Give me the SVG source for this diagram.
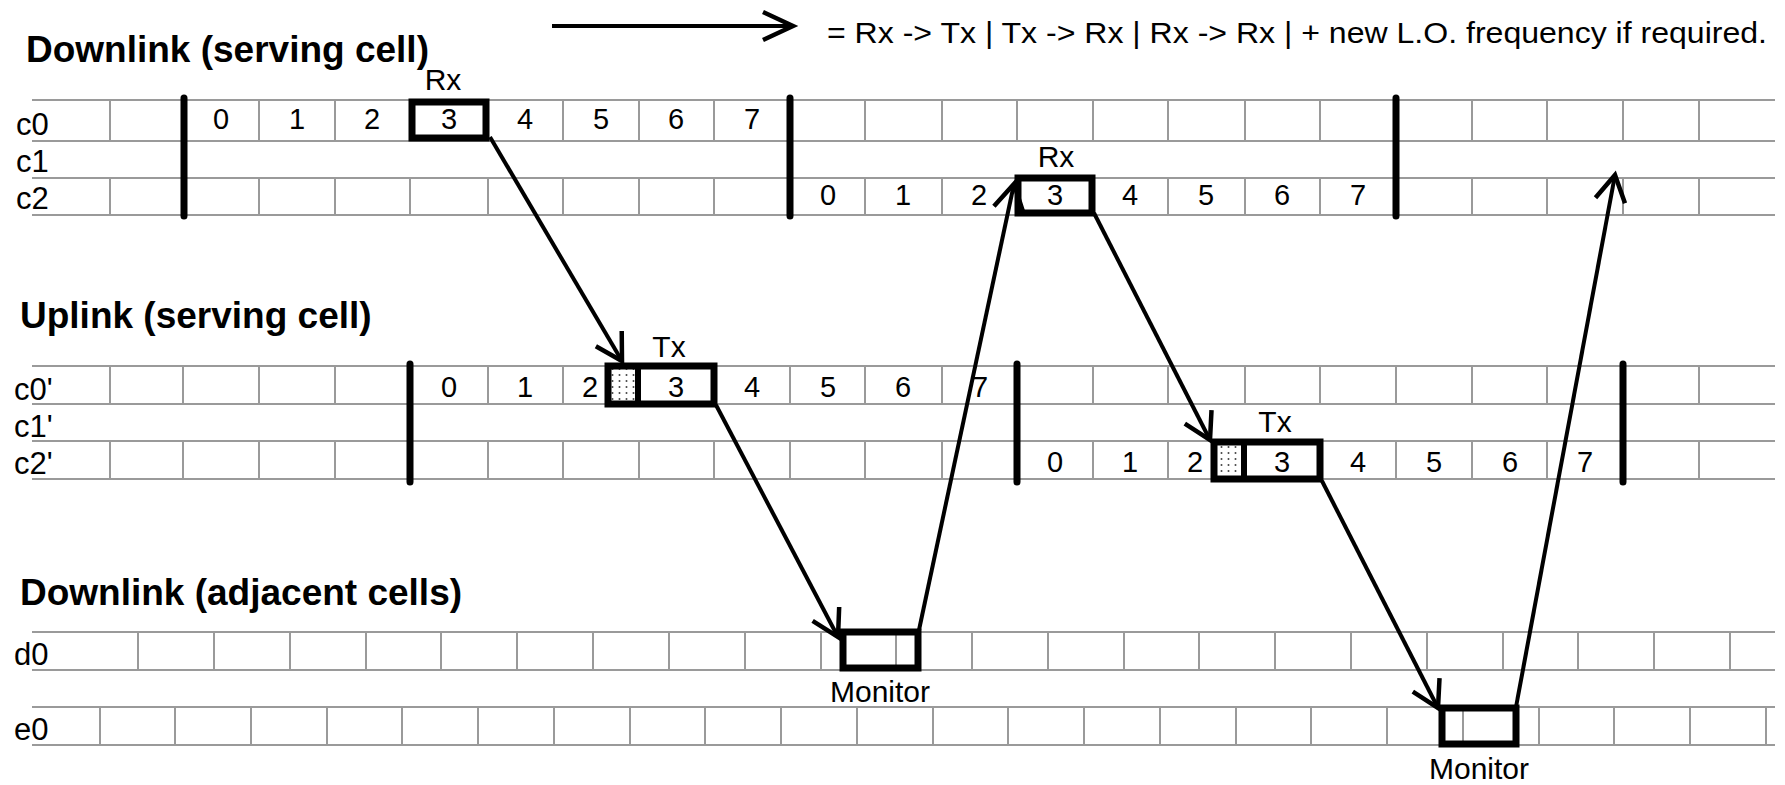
<svg xmlns="http://www.w3.org/2000/svg" width="1785" height="785" viewBox="0 0 1785 785">
<style>
.bg{fill:#fff}
.g{stroke:#9a9a9a;stroke-width:2;fill:none}
.bar{stroke:#000;stroke-width:7;stroke-linecap:round}
.box{fill:none;stroke:#000;stroke-width:7}
.dv{stroke:#000;stroke-width:6}
.t{font-family:"Liberation Sans",Arial,sans-serif;font-weight:bold;font-size:37px;fill:#000}
.lb{font-family:"Liberation Sans",Arial,sans-serif;font-size:31px;fill:#000}
.n{font-family:"Liberation Sans",Arial,sans-serif;font-size:29px;fill:#000;text-anchor:middle}
.m{font-family:"Liberation Sans",Arial,sans-serif;font-size:30px;fill:#000;text-anchor:middle}
.lg{font-family:"Liberation Sans",Arial,sans-serif;font-size:30px;fill:#000}
.c{stroke:#000;stroke-width:4;fill:none}
</style>
<defs>
<marker id="ah" markerUnits="userSpaceOnUse" markerWidth="40" markerHeight="40" viewBox="-35 -20 40 40" refX="0" refY="0" orient="auto" overflow="visible">
<path d="M-26,-15 L0,0 L-26,15" fill="none" stroke="#000" stroke-width="4.5"/>
</marker>
<marker id="ahl" markerUnits="userSpaceOnUse" markerWidth="40" markerHeight="40" viewBox="-35 -20 40 40" refX="0" refY="0" orient="auto" overflow="visible">
<path d="M-30,-14 L0,0 L-30,14" fill="none" stroke="#000" stroke-width="4.5"/>
</marker>
<pattern id="dots" width="7" height="6" patternUnits="userSpaceOnUse">
<circle cx="3.5" cy="3" r="1" fill="#444"/>
</pattern>
</defs>
<rect class="bg" x="0" y="0" width="1785" height="785"/>

<g id="legend">
<path class="c" d="M552,26 L793,26" marker-end="url(#ahl)"/>
<text class="lg" x="827" y="43" textLength="940" lengthAdjust="spacingAndGlyphs">= Rx -&gt; Tx | Tx -&gt; Rx | Rx -&gt; Rx | + new L.O. frequency if required.</text>
</g>

<g id="downlink-serving">
<text class="t" x="26" y="62">Downlink (serving cell)</text>
<text class="lb" x="16" y="135">c0</text>
<text class="lb" x="16" y="172">c1</text>
<text class="lb" x="16" y="209">c2</text>
<path class="g" d="M32,100H1775M32,141H1775M32,178H1775M32,215H1775"/>
<path class="g" d="M110,100V141M259,100V141M335,100V141M410,100V141M488,100V141M563,100V141M639,100V141M714,100V141M865,100V141M942,100V141M1017,100V141M1093,100V141M1168,100V141M1245,100V141M1320,100V141M1472,100V141M1547,100V141M1623,100V141M1699,100V141"/>
<path class="g" d="M110,178V215M259,178V215M335,178V215M410,178V215M488,178V215M563,178V215M639,178V215M714,178V215M865,178V215M942,178V215M1017,178V215M1093,178V215M1168,178V215M1245,178V215M1320,178V215M1472,178V215M1547,178V215M1623,178V215M1699,178V215"/>
<path class="bar" d="M184,98V216M790,98V216M1396,98V216"/>
<g id="c0-slots">
<text class="n" x="221" y="129">0</text>
<text class="n" x="297" y="129">1</text>
<text class="n" x="372" y="129">2</text>
<text class="n" x="449" y="129">3</text>
<text class="n" x="525" y="129">4</text>
<text class="n" x="601" y="129">5</text>
<text class="n" x="676" y="129">6</text>
<text class="n" x="752" y="129">7</text>
</g>
<g id="c2-slots">
<text class="n" x="828" y="205">0</text>
<text class="n" x="903" y="205">1</text>
<text class="n" x="979" y="205">2</text>
<text class="n" x="1055" y="205">3</text>
<text class="n" x="1130" y="205">4</text>
<text class="n" x="1206" y="205">5</text>
<text class="n" x="1282" y="205">6</text>
<text class="n" x="1358" y="205">7</text>
</g>
</g>

<g id="rx-c0">
<rect class="box" x="412" y="102" width="74" height="36"/>
<text class="m" x="443" y="90">Rx</text>
</g>
<g id="rx-c2">
<rect class="box" x="1018" y="178" width="74" height="35"/>
<text class="m" x="1056" y="167">Rx</text>
</g>

<g id="uplink-serving">
<text class="t" x="20" y="328">Uplink (serving cell)</text>
<text class="lb" x="14" y="400">c0'</text>
<text class="lb" x="14" y="437">c1'</text>
<text class="lb" x="14" y="474">c2'</text>
<path class="g" d="M32,366H1775M32,404H1775M32,441H1775M32,479H1775"/>
<path class="g" d="M110,366V404M183,366V404M259,366V404M335,366V404M488,366V404M563,366V404M639,366V404M714,366V404M790,366V404M865,366V404M942,366V404M1093,366V404M1168,366V404M1245,366V404M1320,366V404M1396,366V404M1472,366V404M1547,366V404M1699,366V404"/>
<path class="g" d="M110,441V479M183,441V479M259,441V479M335,441V479M488,441V479M563,441V479M639,441V479M714,441V479M790,441V479M865,441V479M942,441V479M1093,441V479M1168,441V479M1245,441V479M1320,441V479M1396,441V479M1472,441V479M1547,441V479M1699,441V479"/>
<path class="bar" d="M410,364V482M1017,364V482M1623,364V482"/>
<g id="c0p-slots">
<text class="n" x="449" y="397">0</text>
<text class="n" x="525" y="397">1</text>
<text class="n" x="590" y="397">2</text>
<text class="n" x="676" y="397">3</text>
<text class="n" x="752" y="397">4</text>
<text class="n" x="828" y="397">5</text>
<text class="n" x="903" y="397">6</text>
<text class="n" x="980" y="397">7</text>
</g>
<g id="c2p-slots">
<text class="n" x="1055" y="472">0</text>
<text class="n" x="1130" y="472">1</text>
<text class="n" x="1195" y="472">2</text>
<text class="n" x="1282" y="472">3</text>
<text class="n" x="1358" y="472">4</text>
<text class="n" x="1434" y="472">5</text>
<text class="n" x="1510" y="472">6</text>
<text class="n" x="1585" y="472">7</text>
</g>
</g>

<g id="tx-c0p">
<rect x="611" y="369" width="26" height="32" fill="url(#dots)"/>
<rect class="box" x="608" y="366" width="106" height="38"/>
<path class="dv" d="M638,366V404"/>
<text class="m" x="669" y="357">Tx</text>
</g>
<g id="tx-c2p">
<rect x="1217" y="445" width="26" height="31" fill="url(#dots)"/>
<rect class="box" x="1214" y="442" width="106" height="37"/>
<path class="dv" d="M1244,442V479"/>
<text class="m" x="1275" y="432">Tx</text>
</g>

<g id="downlink-adjacent">
<text class="t" x="20" y="605">Downlink (adjacent cells)</text>
<text class="lb" x="14" y="665">d0</text>
<text class="lb" x="14" y="740">e0</text>
<path class="g" d="M32,632H1775M32,670H1775"/>
<path class="g" d="M138,632V670M214,632V670M290,632V670M366,632V670M441,632V670M517,632V670M593,632V670M669,632V670M745,632V670M821,632V670M896,632V670M972,632V670M1048,632V670M1124,632V670M1199,632V670M1275,632V670M1351,632V670M1427,632V670M1503,632V670M1578,632V670M1654,632V670M1730,632V670"/>
<path class="g" d="M32,707H1775M32,745H1775"/>
<path class="g" d="M100,707V745M175,707V745M251,707V745M327,707V745M402,707V745M478,707V745M554,707V745M630,707V745M705,707V745M781,707V745M857,707V745M933,707V745M1008,707V745M1084,707V745M1160,707V745M1236,707V745M1311,707V745M1387,707V745M1463,707V745M1539,707V745M1614,707V745M1690,707V745M1766,707V745"/>
</g>

<g id="monitor-d0">
<rect class="box" x="843" y="632" width="75" height="36"/>
<text class="m" x="880" y="702">Monitor</text>
</g>
<g id="monitor-e0">
<rect class="box" x="1442" y="708" width="74" height="36"/>
<text class="m" x="1479" y="779">Monitor</text>
</g>

<g id="connectors">
<path class="c" d="M490,137 L622,361" marker-end="url(#ah)"/>
<path class="c" d="M716,405 L838,637" marker-end="url(#ah)"/>
<path class="c" d="M919,630 L1014,184" marker-end="url(#ah)"/>
<path class="c" d="M1094,213 L1210,440" marker-end="url(#ah)"/>
<path class="c" d="M1322,481 L1438,708" marker-end="url(#ah)"/>
<path class="c" d="M1516,707 L1615,175" marker-end="url(#ah)"/>
</g>
</svg>
